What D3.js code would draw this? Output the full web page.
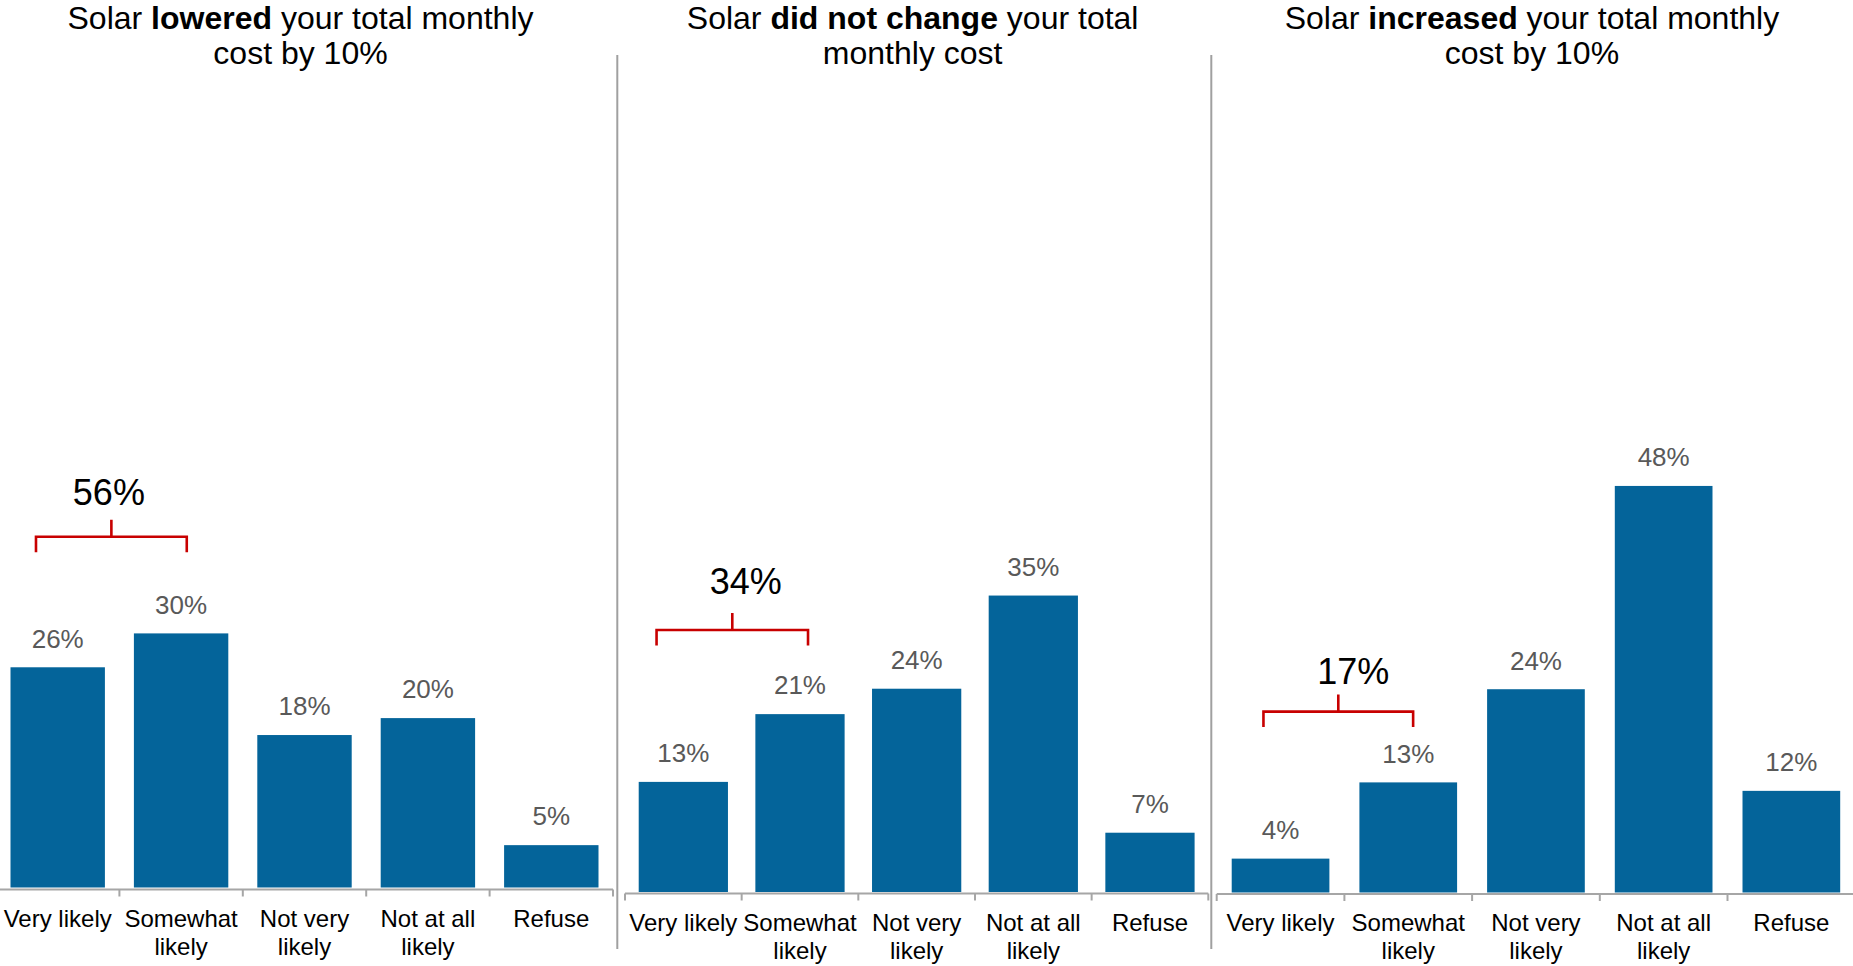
<!DOCTYPE html>
<html>
<head>
<meta charset="utf-8">
<script src="https://cdn.jsdelivr.net/npm/d3@7"></script>
<style>
  html, body { margin: 0; padding: 0; background: #ffffff; }
  svg { display: block; }
  text { font-family: "Liberation Sans", Arial, Helvetica, sans-serif; }
</style>
</head>
<body>
<svg id="chart" width="1853" height="966"></svg>
<script>
// ---------- DATA ----------
const categories = ["Very likely", "Somewhat likely", "Not very likely", "Not at all likely", "Refuse"];
const categoryLines = [["Very likely"], ["Somewhat", "likely"], ["Not very", "likely"], ["Not at all", "likely"], ["Refuse"]];
const loweredValues   = [26, 30, 18, 20, 5];
const unchangedValues = [13, 21, 24, 35, 7];
const increasedValues = [4, 13, 24, 48, 12];
const likelyTotals = [56, 34, 17];
const titlePre  = ["Solar ", "Solar ", "Solar "];
const titleBold = ["lowered", "did not change", "increased"];
const titlePost = [" your total monthly", " your total", " your total monthly"];
const titleLine2 = ["cost by 10%", "monthly cost", "cost by 10%"];

// ---------- LAYOUT ----------
const W = 1853, H = 966;
const BAR = "#04649a", BRACKET = "#c80000", AXIS = "#a6a6a6";
const panels = [
  { x0: -4,     x1: 613,    base: 887.5, axisY: 889.5, values: loweredValues,   brk: [0.27, 0.56],  brkY: 536.7, txtDx: -2.5, txtY: 505 },
  { x0: 625,    x1: 1208.3, base: 892,   axisY: 893.5, values: unchangedValues, brk: [0.20, 0.59],  brkY: 630,   txtDx: 13.5, txtY: 594 },
  { x0: 1216.7, x1: 1855.2, base: 892.5, axisY: 894,   values: increasedValues, brk: [0.325, 0.55], brkY: 711.6, txtDx: 15,   txtY: 683.5 }
];
const separators = [617.3, 1211.3];

const svg = d3.select("#chart");

// separators
svg.selectAll("line.sep").data(separators).enter().append("line")
  .attr("class", "sep")
  .attr("x1", d => d).attr("x2", d => d)
  .attr("y1", 55).attr("y2", 949)
  .attr("stroke", "#a0a0a0").attr("stroke-width", 2);

panels.forEach((p, pi) => {
  const g = svg.append("g");
  const x = d3.scaleBand().domain(categories).range([p.x0, p.x1])
    .paddingInner(0.235).paddingOuter(0.1175);
  const y = d3.scaleLinear().domain([0, 50]).range([p.base, p.base - 423.5]);
  const data = categories.map((c, i) => ({ c, v: p.values[i], lines: categoryLines[i] }));

  // title
  const cx = (p.x0 + p.x1) / 2 - 4;
  const t1 = g.append("text").attr("x", cx).attr("y", 29.2).attr("text-anchor", "middle")
    .attr("font-size", 32).attr("fill", "#000");
  t1.append("tspan").text(titlePre[pi]);
  t1.append("tspan").attr("font-weight", "bold").text(titleBold[pi]);
  t1.append("tspan").text(titlePost[pi]);
  g.append("text").attr("x", cx).attr("y", 63.5).attr("text-anchor", "middle")
    .attr("font-size", 32).attr("fill", "#000").text(titleLine2[pi]);

  // bars
  g.selectAll("rect.bar").data(data).enter().append("rect")
    .attr("class", "bar")
    .attr("x", d => x(d.c))
    .attr("width", x.bandwidth())
    .attr("y", d => y(d.v))
    .attr("height", d => y(0) - y(d.v))
    .attr("fill", BAR);

  // value labels
  g.selectAll("text.val").data(data).enter().append("text")
    .attr("class", "val")
    .attr("x", d => x(d.c) + x.bandwidth() / 2)
    .attr("y", d => y(d.v) - 19.7)
    .attr("text-anchor", "middle")
    .attr("font-size", 26)
    .attr("fill", "#595959")
    .text(d => d.v + "%");

  // axis line with ticks at band boundaries
  const r = x.range();
  g.append("line").attr("x1", r[0]).attr("x2", r[1])
    .attr("y1", p.axisY).attr("y2", p.axisY)
    .attr("stroke", AXIS).attr("stroke-width", 2.2);
  const bounds = d3.range(categories.length + 1).map(i => r[0] + i * x.step());
  g.selectAll("line.tick").data(bounds).enter().append("line")
    .attr("class", "tick")
    .attr("x1", d => d).attr("x2", d => d)
    .attr("y1", p.axisY).attr("y2", p.axisY + 7)
    .attr("stroke", AXIS).attr("stroke-width", 2);

  // category labels
  const cl = g.selectAll("text.cat").data(data).enter().append("text")
    .attr("class", "cat")
    .attr("text-anchor", "middle")
    .attr("font-size", 24)
    .attr("fill", "#000");
  cl.selectAll("tspan").data(d => d.lines.map(l => ({ l, cx: x(d.c) + x.bandwidth() / 2 })))
    .enter().append("tspan")
    .attr("x", d => d.cx)
    .attr("y", (d, i) => p.axisY + 37 + i * 28)
    .text(d => d.l);

  // bracket annotation
  const bl = x(categories[0]) + x.bandwidth() * p.brk[0];
  const br = x(categories[1]) + x.bandwidth() * p.brk[1];
  const mid = (bl + br) / 2;
  const path = d3.path();
  path.moveTo(bl, p.brkY + 15.5);
  path.lineTo(bl, p.brkY);
  path.lineTo(br, p.brkY);
  path.lineTo(br, p.brkY + 15.5);
  path.moveTo(mid, p.brkY);
  path.lineTo(mid, p.brkY - 17);
  g.append("path").attr("d", path.toString())
    .attr("fill", "none").attr("stroke", BRACKET).attr("stroke-width", 2.6);
  g.append("text").attr("x", mid + p.txtDx).attr("y", p.txtY)
    .attr("text-anchor", "middle").attr("font-size", 36).attr("fill", "#000")
    .text(likelyTotals[pi] + "%");
});
</script>
</body>
</html>
